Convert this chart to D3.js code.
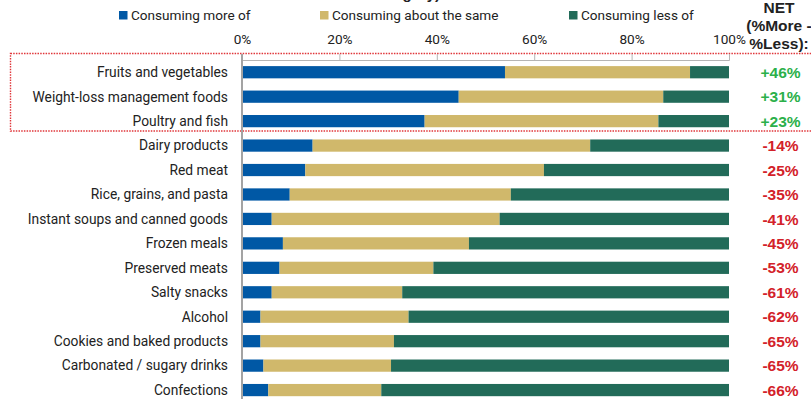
<!DOCTYPE html>
<html>
<head>
<meta charset="utf-8">
<script src="https://cdn.jsdelivr.net/npm/d3@7"></script>
<style>
  html, body { margin: 0; padding: 0; background: #fff; }
  svg { display: block; }
</style>
</head>
<body>
<div id="chart"></div>
<script>
// Food categories, top to bottom
const categories = [
  "Fruits and vegetables",
  "Weight-loss management foods",
  "Poultry and fish",
  "Dairy products",
  "Red meat",
  "Rice, grains, and pasta",
  "Instant soups and canned goods",
  "Frozen meals",
  "Preserved meats",
  "Salty snacks",
  "Alcohol",
  "Cookies and baked products",
  "Carbonated / sugary drinks",
  "Confections"
];

// Share of respondents (%) per category
const consumingMore = [54, 44.5, 37.5, 14.5, 13, 9.8, 6.1, 8.4, 7.7, 6.1, 3.8, 3.8, 4.4, 5.4];
const consumingSame = [38, 42, 48, 57, 49, 45.4, 46.8, 38.2, 31.6, 26.8, 30.4, 27.4, 26.2, 23.2];
const consumingLess = [8, 13.5, 14.5, 28.5, 38, 44.8, 47.1, 53.4, 60.7, 67.1, 65.8, 68.8, 69.4, 71.4];

const seriesNames = ["Consuming more of", "Consuming about the same", "Consuming less of"];
const seriesColors = ["#0058a5", "#d0b86b", "#226b59"];
const tickValues = [0, 20, 40, 60, 80, 100];

const W = 811, H = 399;
const FONT = "Roboto, 'Liberation Sans', Arial, sans-serif";
const HEAD_FONT = "'Liberation Sans', Arial, sans-serif";

const svg = d3.select("#chart").append("svg")
  .attr("width", W).attr("height", H);

const x = d3.scaleLinear().domain([0, 100]).range([242, 729]);
const y = d3.scaleBand().domain(categories)
  .range([60, 402.3]).paddingInner(0.5).paddingOuter(0.25);

const rows = categories.map((c, i) => ({
  category: c,
  more: consumingMore[i],
  same: consumingSame[i],
  less: consumingLess[i]
}));

const stack = d3.stack().keys(["more", "same", "less"]);
const layers = stack(rows);

// Title line (runs off the top edge)
svg.append("text")
  .attr("x", 440).attr("y", -1)
  .attr("text-anchor", "end")
  .attr("font-family", HEAD_FONT).attr("font-weight", "bold")
  .attr("font-size", 15).attr("fill", "#222")
  .text("category)");

// Highlight box around the categories with positive net change
svg.append("rect")
  .attr("x", 10.5).attr("y", 53.5)
  .attr("width", 830).attr("height", 77.5)
  .attr("fill", "none")
  .attr("stroke", "#e0363a").attr("stroke-width", 1.4)
  .attr("stroke-dasharray", "1.5,1.2");

// Legend
const legend = svg.append("g");
const legendX = [119, 320, 569];
seriesNames.forEach((name, i) => {
  const g = legend.append("g").attr("transform", `translate(${legendX[i]},0)`);
  g.append("rect").attr("x", 0).attr("y", 11).attr("width", 8.5).attr("height", 8.5)
    .attr("fill", seriesColors[i]);
  g.append("text").attr("x", 12).attr("y", 20)
    .attr("font-family", FONT).attr("font-size", 13.6).attr("fill", "#222")
    .text(name);
});

// NET column header
const header = svg.append("text")
  .attr("x", 779).attr("text-anchor", "middle")
  .attr("font-family", HEAD_FONT).attr("font-weight", "bold")
  .attr("font-size", 15.5).attr("fill", "#222");
[["NET", 13], ["(%More -", 31], ["%Less):", 48.5]].forEach(([t, yy]) => {
  header.append("tspan").attr("x", 779).attr("y", yy).text(t);
});

// Top percentage axis
const xAxis = svg.append("g")
  .attr("transform", "translate(0,60)")
  .call(d3.axisTop(x).tickValues(tickValues).tickFormat(d => d + "%")
    .tickSize(6).tickSizeOuter(6).tickPadding(10.5));
xAxis.selectAll("path, line").attr("stroke", "#b5b5b5").attr("stroke-width", 1);
xAxis.selectAll("text")
  .attr("font-family", FONT).attr("font-size", 13.6).attr("fill", "#222");

// Stacked bars
svg.append("g").selectAll("g")
  .data(layers)
  .join("g")
  .attr("fill", (d, i) => seriesColors[i])
  .selectAll("rect")
  .data(d => d)
  .join("rect")
  .attr("x", d => x(d[0]))
  .attr("y", d => y(d.data.category))
  .attr("width", d => x(d[1]) - x(d[0]))
  .attr("height", y.bandwidth());

// Category axis line and labels
svg.append("line")
  .attr("x1", 242).attr("x2", 242).attr("y1", 54).attr("y2", H)
  .attr("stroke", "#a3a3a3").attr("stroke-width", 2);

svg.append("g").selectAll("text")
  .data(categories)
  .join("text")
  .attr("x", 228)
  .attr("y", d => y(d) + y.bandwidth() / 2)
  .attr("dy", "0.35em")
  .attr("text-anchor", "end")
  .attr("font-family", FONT).attr("font-size", 13.8).attr("fill", "#222")
  .text(d => d);

// NET values (% more minus % less)
const fmtNet = d3.format("+.0f");
svg.append("g").selectAll("text")
  .data(rows)
  .join("text")
  .attr("x", 780.5)
  .attr("y", d => y(d.category) + y.bandwidth() / 2)
  .attr("dy", "0.36em")
  .attr("text-anchor", "middle")
  .attr("font-family", HEAD_FONT).attr("font-weight", "bold")
  .attr("font-size", 15.5)
  .attr("fill", d => (d.more - d.less) >= 0 ? "#2bb04a" : "#d32129")
  .text(d => fmtNet(d.more - d.less).replace("\u2212", "-") + "%");
</script>
</body>
</html>
